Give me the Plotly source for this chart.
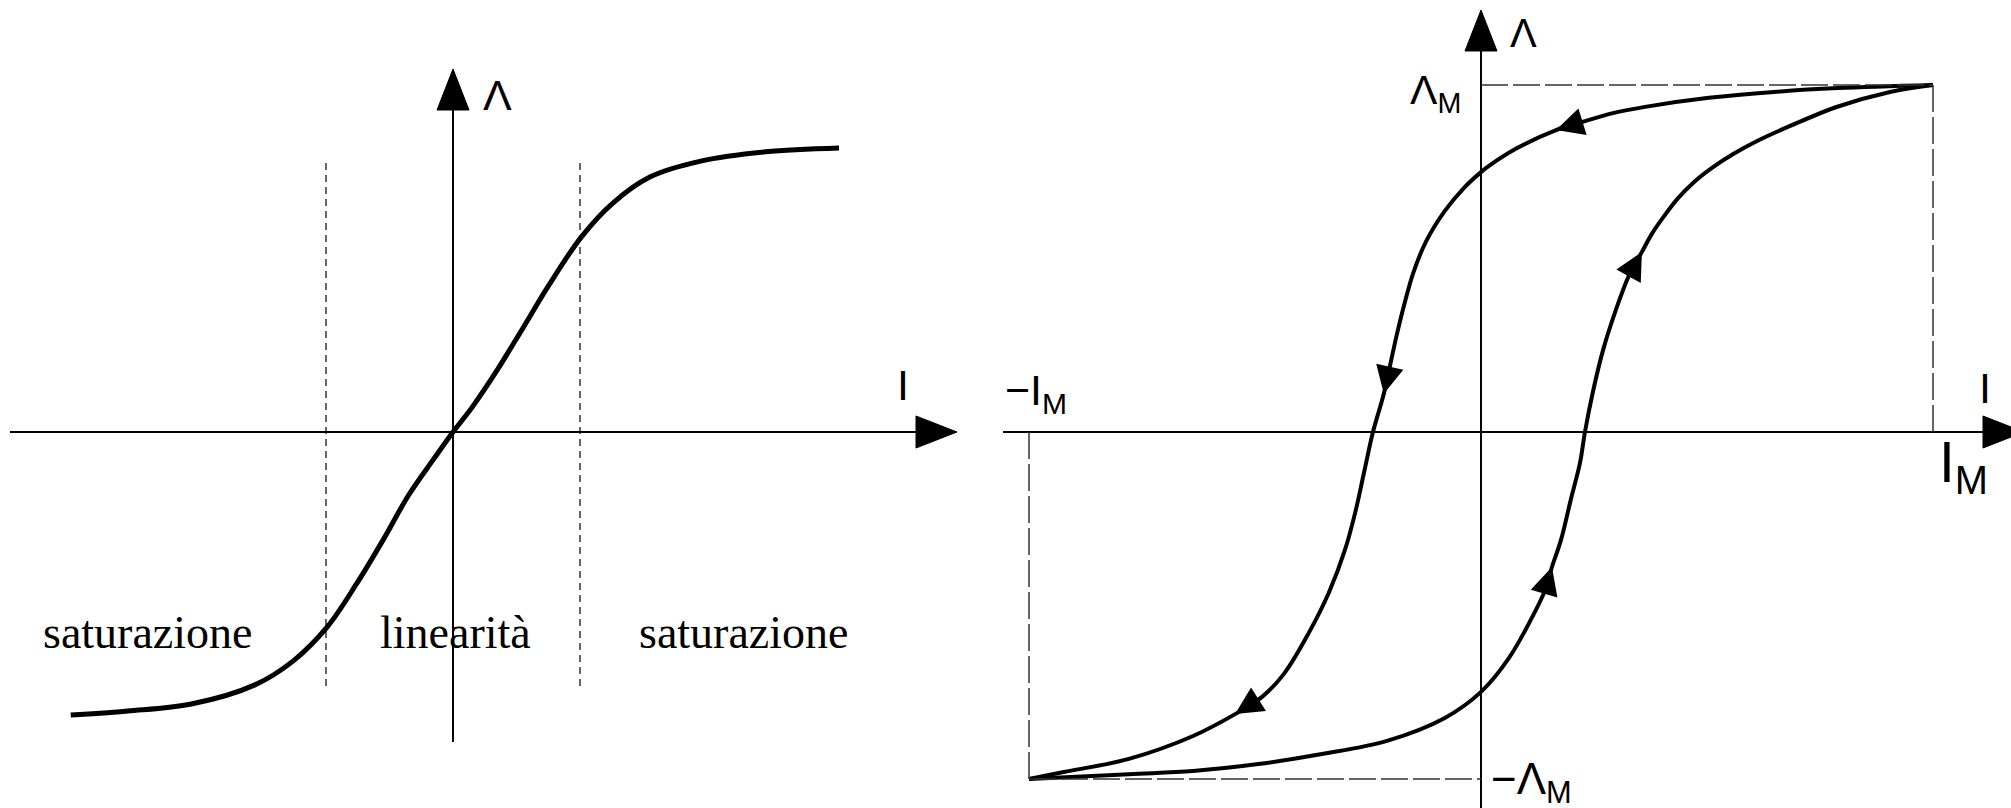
import plotly.graph_objects as go

W, H = 2011, 808

# ---------------- data ----------------
# left: magnetisation characteristic Λ(I) (I in units of the linear-range limit)
i_sat = [-3.01, -2.56, -2.06, -1.56, -1.26, -0.99, -0.76, -0.55, -0.35, -0.15, 0.0,
         0.15, 0.35, 0.55, 0.75, 1.01, 1.25, 1.55, 1.95, 2.46, 3.04]
lam_sat = [-0.976, -0.962, -0.938, -0.872, -0.790, -0.672, -0.524, -0.372, -0.218, -0.092, 0.0,
           0.085, 0.215, 0.358, 0.503, 0.672, 0.786, 0.879, 0.934, 0.966, 0.979]
linear_limits = [-1.0, 1.0]
region_labels = ["saturazione", "linearità", "saturazione"]

# right: hysteresis loop, I / I_M and Λ / Λ_M
i_desc = [1.0, 0.790, 0.648, 0.504, 0.363, 0.292, 0.230, 0.166, 0.077, 0.020, 0.0,
          -0.038, -0.080, -0.122, -0.150, -0.166, -0.186, -0.201, -0.215, -0.239,
          -0.259, -0.279, -0.301, -0.336, -0.381, -0.436, -0.485, -0.544, -0.637,
          -0.779, -0.923, -1.0]
lam_desc = [1.0, 0.991, 0.980, 0.963, 0.937, 0.919, 0.896, 0.870, 0.816, 0.769, 0.749,
            0.703, 0.637, 0.548, 0.458, 0.386, 0.282, 0.193, 0.110, 0.0,
            -0.118, -0.236, -0.340, -0.461, -0.579, -0.697, -0.764, -0.813, -0.876,
            -0.942, -0.980, -1.0]
i_asc = [-1.0, -0.779, -0.637, -0.493, -0.352, -0.208, -0.080, 0.0, 0.062, 0.119,
         0.142, 0.157, 0.177, 0.199, 0.219, 0.230, 0.248, 0.270, 0.299, 0.327,
         0.356, 0.378, 0.405, 0.436, 0.471, 0.511, 0.558, 0.613, 0.684, 0.790, 0.905, 1.0]
lam_asc = [-1.0, -0.986, -0.977, -0.957, -0.928, -0.890, -0.824, -0.749, -0.651, -0.519,
           -0.455, -0.389, -0.311, -0.193, -0.089, 0.0, 0.118, 0.236, 0.354, 0.450,
           0.519, 0.571, 0.622, 0.674, 0.720, 0.761, 0.801, 0.840, 0.882, 0.938, 0.980, 1.0]
arrows_desc = [7, 18, 27]   # indices where direction arrows sit
arrows_asc = [11, 20]
peak = [1.0, 1.0]           # (I_M, Λ_M)

# ---------------- geometry (pixels) ----------------
SPLIT = 1000
L_O = (453, 432); L_SX, L_SY = 127.0, 290.0
R_O = (1481, 432); R_SX, R_SY = 452.0, 347.0


def lx(px): return (px - L_O[0]) / L_SX
def ly(py): return (L_O[1] - py) / L_SY
def rx(px): return (px - R_O[0]) / R_SX
def ry(py): return (R_O[1] - py) / R_SY
def px_(px): return px / W
def py_(py): return 1 - py / H


fig = go.Figure()
curve = dict(color="black", shape="spline", smoothing=1.0)
fig.add_trace(go.Scatter(x=i_sat, y=lam_sat, mode="lines", line=dict(curve, width=5),
                         xaxis="x", yaxis="y", hoverinfo="skip", showlegend=False))
fig.add_trace(go.Scatter(x=i_desc, y=lam_desc, mode="lines", line=dict(curve, width=4),
                         xaxis="x2", yaxis="y2", hoverinfo="skip", showlegend=False))
fig.add_trace(go.Scatter(x=i_asc, y=lam_asc, mode="lines", line=dict(curve, width=4),
                         xaxis="x2", yaxis="y2", hoverinfo="skip", showlegend=False))

shapes = []
AXW = 2


def line(xref, yref, x0, y0, x1, y1, width=AXW, dash=None, color="black"):
    d = dict(type="line", xref=xref, yref=yref, x0=x0, y0=y0, x1=x1, y1=y1,
             line=dict(color=color, width=width))
    if dash:
        d["line"]["dash"] = dash
    shapes.append(d)


def head(xref, yref, xa, ya, direction, length=41, half=16):
    if direction == "right":
        path = f"M0,0 L{-length},{half} L{-length},{-half} Z"
    else:
        path = f"M0,0 L{-half},{-length} L{half},{-length} Z"
    shapes.append(dict(type="path", xref=xref, yref=yref, xsizemode="pixel", ysizemode="pixel",
                       xanchor=xa, yanchor=ya, path=path, fillcolor="black",
                       line=dict(color="black", width=1)))


# left axes
line("x", "y", lx(10), 0, lx(920), 0)
head("x", "y", lx(957), 0, "right")
line("x", "y", 0, ly(742), 0, ly(105))
head("x", "y", 0, ly(69), "up")
# linear-region limits
for v in linear_limits:
    line("x", "y", v, ly(163), v, ly(686), width=1.2, dash="7px,5px")

# right axes
line("x2", "y2", rx(1003), 0, rx(1990), 0)
head("x2", "y2", rx(2024), 0, "right")
line("x2", "y2", 0, ry(815), 0, ry(46))
head("x2", "y2", 0, ry(10), "up")
# peak reference lines
DASH_R = "27px,5px"
line("x2", "y2", 0, peak[1], peak[0], peak[1], width=1.5, dash=DASH_R, color="#333")
line("x2", "y2", peak[0], peak[1], peak[0], 0, width=1.5, dash=DASH_R, color="#333")
line("x2", "y2", -peak[0], 0, -peak[0], -peak[1], width=1.5, dash=DASH_R, color="#333")
line("x2", "y2", -peak[0], -peak[1], 0, -peak[1], width=1.5, dash=DASH_R, color="#333")

ann = []
# direction arrows on the loop
for xs, ys, idxs in ((i_desc, lam_desc, arrows_desc), (i_asc, lam_asc, arrows_asc)):
    for k in idxs:
        ann.append(dict(xref="x2", yref="y2", axref="x2", ayref="y2",
                        x=xs[k], y=ys[k], ax=xs[k - 1], ay=ys[k - 1], text="",
                        showarrow=True, arrowhead=2, arrowsize=1.85, arrowwidth=3,
                        arrowcolor="black", standoff=0))

SANS = "Liberation Sans"
SERIF = "Liberation Serif"


def label(text, x, y, size, family=SANS, xanchor="center", yanchor="middle"):
    ann.append(dict(xref="paper", yref="paper", x=px_(x), y=py_(y), text=text,
                    showarrow=False, xanchor=xanchor, yanchor=yanchor,
                    font=dict(family=family, size=size, color="black")))


label("Λ", 497, 95, 43)
label("I", 903, 385, 43)
for txt, cx in zip(region_labels, [147, 455, 743]):
    label(txt, cx, 632, 46, family=SERIF)

label("Λ", 1523, 33, 40)
label("I", 1985, 388, 43)
label("Λ<sub>M</sub>", 1463, 93, 41, xanchor="right")
label("−I<sub>M</sub>", 1003, 393, 43, xanchor="left")
label("I<sub>M</sub>", 1937, 466, 57, xanchor="left")
label("−Λ<sub>M</sub>", 1489, 782, 44, xanchor="left")

hidden = dict(showgrid=False, zeroline=False, showticklabels=False, showline=False,
              ticks="", fixedrange=True)
fig.update_layout(
    width=W, height=H, margin=dict(l=0, r=0, t=0, b=0),
    paper_bgcolor="white", plot_bgcolor="white", showlegend=False,
    xaxis=dict(hidden, domain=[0, SPLIT / W], range=[lx(0), lx(SPLIT)]),
    yaxis=dict(hidden, domain=[0, 1], range=[ly(H), ly(0)]),
    xaxis2=dict(hidden, domain=[SPLIT / W, 1], range=[rx(SPLIT), rx(W)], anchor="y2"),
    yaxis2=dict(hidden, domain=[0, 1], range=[ry(H), ry(0)], anchor="x2"),
    shapes=shapes, annotations=ann,
)

fig.write_html("out.html")
